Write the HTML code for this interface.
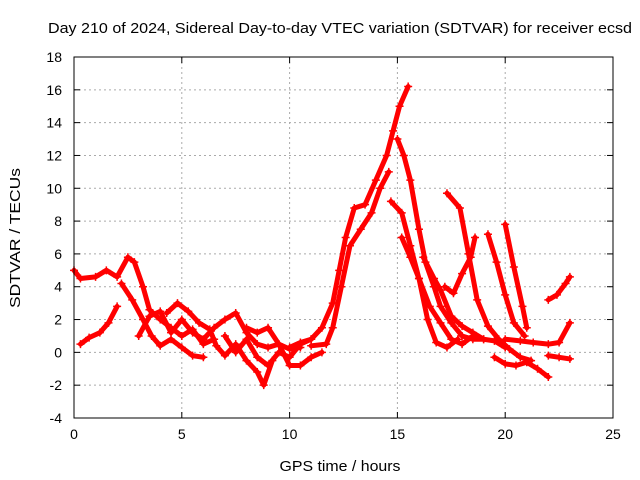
<!DOCTYPE html>
<html><head><meta charset="utf-8"><style>
body{margin:0;background:#fff;}
svg{display:block;font-family:"Liberation Sans",sans-serif;}
</style></head><body>
<svg id="chart" width="640" height="480" xmlns="http://www.w3.org/2000/svg">
<rect width="640" height="480" fill="#fff"/>
<text x="340" y="33" font-size="15" text-anchor="middle" textLength="584" lengthAdjust="spacingAndGlyphs">Day 210 of 2024, Sidereal Day-to-day VTEC variation (SDTVAR) for receiver ecsd</text>
<text x="340" y="471" font-size="15" text-anchor="middle" textLength="121" lengthAdjust="spacingAndGlyphs">GPS time / hours</text>
<text transform="translate(20,238) rotate(-90)" font-size="15" text-anchor="middle" textLength="140" lengthAdjust="spacingAndGlyphs">SDTVAR / TECUs</text>
<g id="grid"></g><g id="ticks"></g><g id="marks"></g>
<rect x="74" y="57" width="539" height="361" fill="none" stroke="#000" stroke-width="1"/>
</svg>
<script>
const xTicks=[0,5,10,15,20,25];
const yTicks=[-4,-2,0,2,4,6,8,10,12,14,16,18];
const track1=[[0,5],[0.3,4.5],[1,4.6],[1.5,5],[2,4.6],[2.5,5.8],[2.8,5.5],[3.2,4],[3.5,2.6],[4,2],[4.5,1.5],[5,1],[5.5,1.4],[6,0.5],[6.5,0.8]];
const track2=[[0.3,0.5],[0.7,0.9],[1.2,1.2],[1.6,1.8],[2,2.8]];
const track3=[[2.2,4.2],[2.7,3.2],[3.2,2],[3.6,1],[4,0.4],[4.5,0.8],[5,0.3],[5.5,-0.2],[6,-0.3]];
const track4=[[4.3,2.4],[4.8,3],[5.3,2.5],[5.8,1.8],[6.3,1.4],[6.6,0.4],[7,-0.2],[7.5,0.5],[8,-0.5],[8.5,-1.2],[8.8,-2],[9.2,-0.5]];
const track5=[[3,1],[3.5,2.2],[4,2.5],[4.5,1.2],[5,2],[5.5,1.2],[6,0.8],[6.5,1.5],[7,2],[7.5,2.4],[8,1.2],[8.5,0.5],[9,0.3],[9.5,0.5],[10,0.2],[10.5,0.3]];
const track6=[[7,1],[7.5,0],[8,0.8],[8.5,-0.3],[9,-0.8],[9.5,0],[10,-0.3],[10.5,0.5],[11,0.8]];
const track7=[[8,1.5],[8.5,1.2],[9,1.5],[9.5,0.5],[10,-0.8],[10.5,-0.8],[11,-0.3],[11.5,0]];
const track8=[[10,0.3],[10.5,0.6],[11,0.8],[11.5,1.5],[12,3],[12.3,5],[12.6,7],[13,8.8],[13.5,9],[14,10.5],[14.5,12],[14.8,13.5],[15.1,15],[15.5,16.2]];
const track9=[[11,0.4],[11.7,0.5],[12,1.5],[12.4,4],[12.8,6.5],[13.3,7.5],[13.8,8.5],[14.2,10],[14.6,11]];
const track10=[[15,13],[15.3,12],[15.6,10.5],[16,7.5],[16.3,5.5],[16.7,4],[17,2.8],[17.5,1.8],[18,1],[18.5,0.8],[19,0.8]];
const track11=[[14.7,9.2],[15.2,8.5],[15.6,6.5],[16,4.5],[16.5,2.8],[17,1.8],[17.5,0.8],[18,0.5],[18.5,1]];
const track12=[[15.2,7],[15.6,5.8],[16,4.5],[16.4,2],[16.8,0.6],[17.3,0.3],[17.8,0.8]];
const track13=[[16.2,5.8],[16.7,4.5],[17,3.8],[17.5,2.2],[18,1.6],[18.5,1.2],[19,0.8],[19.5,0.7],[20,0.3]];
const track14=[[17.2,4],[17.6,3.6],[18,4.8],[18.4,5.8],[18.6,7]];
const track15=[[17.3,9.7],[17.9,8.8],[18.3,6],[18.7,3.2],[19.2,1.6],[19.7,0.8],[20.2,0.2],[20.7,-0.3],[21.2,-0.5]];
const track16=[[19.2,7.2],[19.6,5.5],[20,3.5],[20.4,1.8],[20.9,1]];
const track17=[[20,7.8],[20.4,5.2],[20.8,2.8],[21,1.5]];
const track18=[[19.5,-0.3],[20,-0.7],[20.5,-0.8],[21,-0.6],[21.5,-1],[22,-1.5]];
const track19=[[20,0.8],[20.7,0.7],[21.3,0.6],[22,0.5],[22.5,0.6],[23,1.8]];
const track20=[[22,-0.2],[22.5,-0.3],[23,-0.4]];
const track21=[[22,3.2],[22.4,3.5],[22.8,4.2],[23,4.6]];
const tracks=[track1,track2,track3,track4,track5,track6,track7,track8,track9,track10,track11,track12,track13,track14,track15,track16,track17,track18,track19,track20,track21];
const X0=74,X1=613,Y0=418,Y1=57;
function sx(v){return X0+(v-0)/25*(X1-X0);}
function sy(v){return Y0-(v+4)/22*(Y0-Y1);}
const NS="http://www.w3.org/2000/svg";
const grid=document.getElementById('grid'),ticks=document.getElementById('ticks'),marks=document.getElementById('marks');
function mk(t,a,p){const e=document.createElementNS(NS,t);for(const k in a)e.setAttribute(k,a[k]);p.appendChild(e);return e;}
xTicks.forEach(v=>{const x=sx(v);
 if(v>0&&v<25){const g=mk('line',{x1:x,x2:x,y1:Y1,y2:Y0,stroke:'#aaa','stroke-dasharray':'2,3'},grid);
 
 }
 mk('line',{x1:x,x2:x,y1:Y0,y2:Y0-6,stroke:'#000'},ticks);mk('line',{x1:x,x2:x,y1:Y1,y2:Y1+6,stroke:'#000'},ticks);
 const t=mk('text',{x:x,y:Y0+21,'font-size':14,'text-anchor':'middle'},ticks);t.textContent=v;
 
 });
yTicks.forEach(v=>{const y=sy(v);
 if(v>-4&&v<18){const g=mk('line',{x1:X0,x2:X1,y1:y,y2:y,stroke:'#aaa','stroke-dasharray':'2,3'},grid);
 
 }
 mk('line',{x1:X0,x2:X0+6,y1:y,y2:y,stroke:'#000'},ticks);mk('line',{x1:X1,x2:X1-6,y1:y,y2:y,stroke:'#000'},ticks);
 const t=mk('text',{x:X0-12,y:y+5,'font-size':14,'text-anchor':'end'},ticks);t.textContent=v;
 
 });
tracks.forEach((tr,i)=>{
 const pl=mk('polyline',{points:tr.map(p=>sx(p[0])+','+sy(p[1])).join(' '),fill:'none',stroke:'#f00','stroke-width':5,'stroke-linejoin':'round','stroke-linecap':'round'},marks);
 
 
 tr.forEach(p=>{const x=sx(p[0]),y=sy(p[1]);
  const m=mk('path',{d:`M${x-4},${y}H${x+4}M${x},${y-4}V${y+4}`,stroke:'#f00','stroke-width':1.5},marks);
  
  });
});
</script>
</body></html>
